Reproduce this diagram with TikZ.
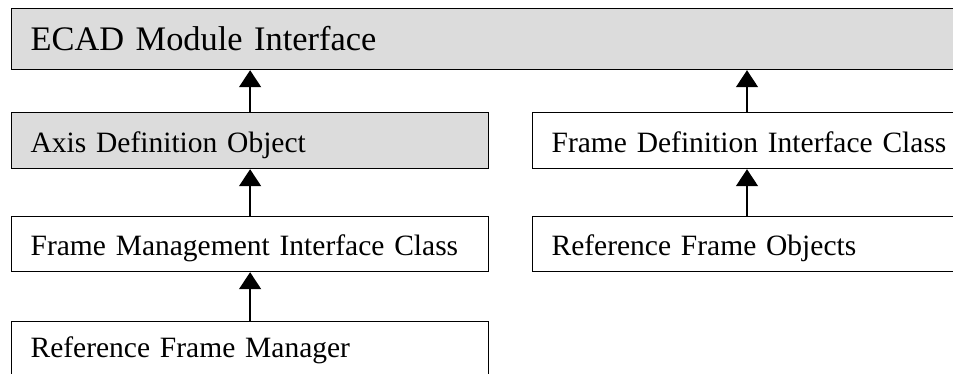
\documentclass[tikz,border=0pt]{standalone}
\usepackage{fontspec}
\setmainfont{Liberation Serif}
\usetikzlibrary{arrows.meta,calc}
\definecolor{boxgray}{RGB}{220,220,220}
\begin{document}
\begin{tikzpicture}[x=1pt,y=-1pt,
  box/.style={draw, line width=1.2pt, anchor=north west, inner xsep=19pt, inner ysep=0pt,
    align=left, text height=23pt, text depth=0pt, font=\fontsize{29.5}{36}\selectfont},
  graybox/.style={box, fill=boxgray},
  arr/.style={line width=1.5pt, -{Triangle[width=22pt,length=17pt]}}]
\useasboundingbox (0,0) rectangle (953,373);
\clip (0,0) rectangle (953,373);
\node[graybox, text width=931pt, minimum height=61pt, font=\fontsize{34.4}{40}\selectfont] (ecad) at (11,8) {ECAD Module Interface};
\node[graybox, text width=439pt, minimum height=56pt] (axis) at (11,112) {Axis Definition Object};
\node[box, text width=440pt, minimum height=56pt] (fdic) at (532,112) {Frame Definition Interface Class};
\node[box, text width=439pt, minimum height=55pt] (fmic) at (11,216) {Frame Management Interface Class};
\node[box, text width=440pt, minimum height=55pt] (rfo) at (532,216) {Reference Frame Objects};
\node[box, text width=439pt, minimum height=80pt, text depth=31pt] (rfm) at (11,321) {Reference Frame Manager};
\coordinate (fdtop) at ($(fdic.north west)+(215,0)$);
\coordinate (rfotop) at ($(rfo.north west)+(215,0)$);
\draw[arr] (axis.north) -- (axis.north |- ecad.south);
\draw[arr] (fdtop) -- (fdtop |- ecad.south);
\draw[arr] (fmic.north) -- (axis.south);
\draw[arr] (rfotop) -- (rfotop |- fdic.south);
\draw[arr] (rfm.north) -- (fmic.south);
\end{tikzpicture}
\end{document}
